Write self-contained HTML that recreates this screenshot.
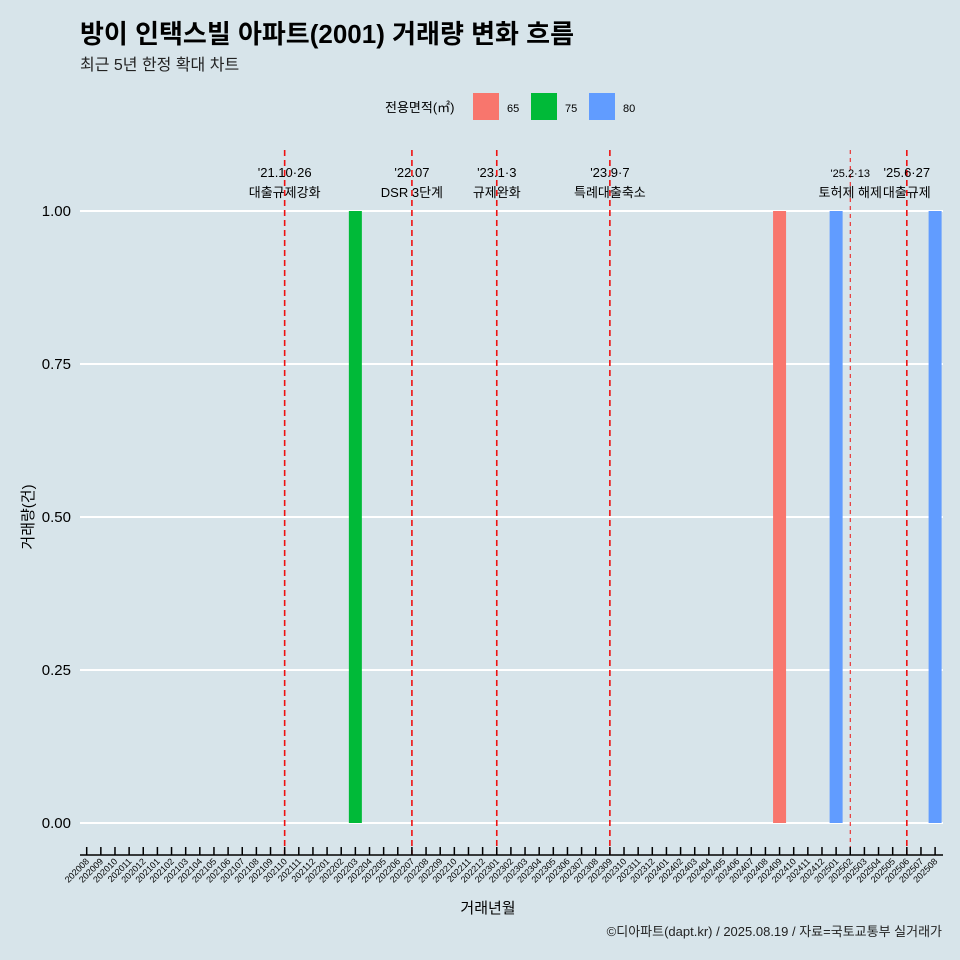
<!DOCTYPE html>
<html><head><meta charset="utf-8"><style>
body{margin:0;background:#d7e4ea;}
svg{display:block;font-family:"Liberation Sans","Noto Sans CJK KR",sans-serif;}
</style></head><body>
<svg width="960" height="960" viewBox="0 0 960 960">
<rect width="960" height="960" fill="#d7e4ea"/>
<text x="80" y="43" font-size="26" font-weight="bold" fill="#000">방이 인택스빌 아파트(2001) 거래량 변화 흐름</text>
<text x="80" y="70" font-size="16" fill="#222">최근 5년 한정 확대 차트</text>
<g>
<text x="385" y="112" font-size="13">전용면적(㎡)</text>
<rect x="473" y="93" width="26" height="27" fill="#f8766d"/>
<text x="507" y="112" font-size="11">65</text>
<rect x="531" y="93" width="26" height="27" fill="#00ba38"/>
<text x="565" y="112" font-size="11">75</text>
<rect x="589" y="93" width="26" height="27" fill="#619cff"/>
<text x="623" y="112" font-size="11">80</text>
</g>
<g id="grid"></g><g id="yaxis"></g><g id="bars"></g><g id="vlines"></g><g id="xaxis"></g>
<text x="488" y="913" font-size="15" text-anchor="middle">거래년월</text>
<text transform="translate(33,517) rotate(-90)" font-size="15" text-anchor="middle">거래량(건)</text>
<text x="942" y="936" font-size="13" text-anchor="end" fill="#222">©디아파트(dapt.kr) / 2025.08.19 / 자료=국토교통부 실거래가</text>
</svg>
<script>
const months=[];
for(let y=2020;y<=2025;y++)for(let m=1;m<=12;m++){const k=y*100+m;if(k>=202008&&k<=202508)months.push(String(k));}
const barMonths=["202203","202409","202501","202508"];
const barValues=[1,1,1,1];
const barAreas=["75","65","80","80"];
const yTicks=[0,0.25,0.5,0.75,1];
const yTickLabels=["0.00","0.25","0.50","0.75","1.00"];
const eventMonths=["202110","202207","202301","202309","202502","202506"];
const eventLine1=["'21.10·26","'22.07","'23.1·3","'23.9·7","'25.2·13","'25.6·27"];
const eventLine2=["대출규제강화","DSR 3단계","규제완화","특례대출축소","토허제 해제","대출규제"];
const colors={"65":"#f8766d","75":"#00ba38","80":"#619cff"};
const NS="http://www.w3.org/2000/svg";
const xs=i=>86.7+14.14*i;
const xm=m=>xs(months.indexOf(m));
const ys=v=>823-612*v;
function mk(tag,attrs,parent,text){const e=document.createElementNS(NS,tag);for(const k in attrs)e.setAttribute(k,attrs[k]);if(text!=null)e.textContent=text;document.getElementById(parent).appendChild(e);return e;}
yTicks.forEach((v,i)=>{
 const l=mk("line",{x1:80,x2:943,y1:ys(v),y2:ys(v),stroke:"#fff","stroke-width":2},"grid");
 
 
 const t=mk("text",{x:71,y:ys(v)+5,"font-size":15,"text-anchor":"end"},"yaxis",yTickLabels[i]);
 
 
});
barMonths.forEach((m,i)=>{
 const r=mk("rect",{x:xm(m)-6.5,y:ys(barValues[i]),width:13,height:ys(0)-ys(barValues[i]),fill:colors[barAreas[i]]},"bars");
 
 
});
eventMonths.forEach((m,i)=>{
 const x=xm(m);const thin=m==="202502";
 const l=mk("line",{x1:x,x2:x,y1:150,y2:855,stroke:"#ee1111","stroke-width":thin?1:1.6,"stroke-dasharray":thin?"4,4":"6,4"},"vlines");
 
 
 const t1=mk("text",{x:x,y:177,"font-size":thin?11:13,"text-anchor":"middle"},"vlines",eventLine1[i]);
 
 
 const t2=mk("text",{x:x,y:197,"font-size":13,"text-anchor":"middle"},"vlines",eventLine2[i]);
 
 
});
const ax=mk("line",{x1:80,x2:943,y1:855,y2:855,stroke:"#000","stroke-width":1.5},"xaxis");


months.forEach((m,i)=>{
 const x=xs(i);
 const t=mk("line",{x1:x,x2:x,y1:847,y2:855,stroke:"#000","stroke-width":1.5},"xaxis");
 
 
 const l=mk("text",{x:x+3,y:862,"font-size":9,"text-anchor":"end",transform:`rotate(-45 ${x+3} 862)`},"xaxis",m);
 
 
});
</script>
</body></html>
